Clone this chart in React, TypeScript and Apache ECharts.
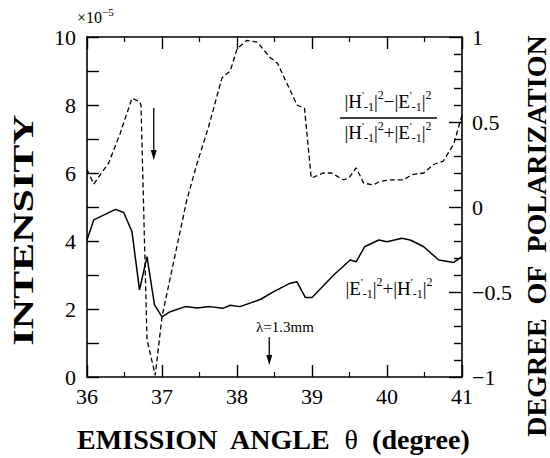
import React, { useEffect, useRef } from 'react';
import * as echarts from 'echarts';

const SERIF = "'Liberation Serif', 'Times New Roman', Times, serif";

// Solid curve: |E'_-1|^2 + |H'_-1|^2 (left axis, x10^-5)
const intensityAngles = [36.0, 36.09, 36.38, 36.49, 36.6, 36.7, 36.8, 36.9, 37.0, 37.11, 37.31, 37.47, 37.64, 37.81, 37.91, 38.04, 38.31, 38.49, 38.71, 38.8, 38.91, 39.0, 39.29, 39.51, 39.59, 39.7, 39.89, 40.0, 40.2, 40.31, 40.49, 40.69, 40.89, 41.0];
const intensityValues = [4.03, 4.62, 4.93, 4.84, 4.27, 2.56, 3.54, 2.12, 1.77, 1.92, 2.07, 2.03, 2.07, 2.02, 2.11, 2.07, 2.28, 2.51, 2.76, 2.8, 2.34, 2.34, 3.0, 3.44, 3.39, 3.83, 4.03, 3.98, 4.08, 4.03, 3.83, 3.44, 3.37, 3.54];

// Dashed curve: degree of polarization (right axis)
const polarAngles = [36.0, 36.09, 36.29, 36.44, 36.6, 36.7, 36.72, 36.8, 36.91, 37.0, 37.33, 37.47, 37.62, 37.8, 37.91, 38.0, 38.13, 38.27, 38.44, 38.54, 38.8, 38.9, 38.99, 39.15, 39.26, 39.42, 39.49, 39.59, 39.69, 39.82, 39.9, 40.04, 40.22, 40.33, 40.49, 40.62, 40.75, 40.89, 41.0];
const polarValues = [0.22, 0.135, 0.26, 0.43, 0.64, 0.62, 0.6, -0.78, -0.99, -0.645, 0.04, 0.26, 0.47, 0.76, 0.8, 0.93, 0.98, 0.97, 0.88, 0.845, 0.6, 0.58, 0.17, 0.2, 0.2, 0.16, 0.17, 0.23, 0.14, 0.13, 0.15, 0.16, 0.16, 0.19, 0.2, 0.25, 0.27, 0.37, 0.54];

// Arrow annotations [angle, fromIntensity, tipIntensity]
const arrowMarks = [
  [36.89, 7.91, 6.38],
  [38.43, 1.17, 0.35],
];

const rightTickLabels: Record<string, string> = { '1': '1', '0.5': '0.5', '0': '0', '-0.5': '\u22120.5', '-1': '\u22121' };

const rich = {
  sup: { fontSize: 12, fontFamily: SERIF, fill: '#000', color: '#000', verticalAlign: 'top', padding: [0, 0, 12, 0] },
  sub: { fontSize: 12, fontFamily: SERIF, fill: '#000', color: '#000', verticalAlign: 'bottom' },
  pr: { fontSize: 11, fontFamily: SERIF, fill: '#000', color: '#000', verticalAlign: 'top', padding: [0, 0, 12, 0] },
};

function txt(x: number, y: number, text: string, fontSize: number, extra: any = {}, elExtra: any = {}) {
  return {
    type: 'text',
    x,
    y,
    silent: true,
    ...elExtra,
    style: {
      text,
      fontFamily: SERIF,
      fontSize,
      fill: '#000',
      align: 'left',
      textAlign: 'left',
      verticalAlign: 'middle',
      textVerticalAlign: 'middle',
      ...extra,
    },
  };
}

export default function App() {
  const ref = useRef<HTMLDivElement>(null);
  useEffect(() => {
    const chart = echarts.init(ref.current!, null, { renderer: 'svg' });
    const axisLabelStyle = { color: '#000', fontFamily: SERIF, fontSize: 22, fontWeight: 'normal' };
    const axisLineStyle = { onZero: false, lineStyle: { color: '#000', width: 1.6 } };
    const xAxisCommon = {
      type: 'value',
      min: 36,
      max: 41,
      interval: 1,
      axisLine: { show: true, ...axisLineStyle },
      axisTick: { show: true, inside: true, length: 12, lineStyle: { color: '#000', width: 1.4 } },
      minorTick: { show: true, splitNumber: 2, length: 5, lineStyle: { color: '#000', width: 1.2 } },
      splitLine: { show: false },
    };
    const option: any = {
      animation: false,
      backgroundColor: '#fff',
      textStyle: { fontFamily: SERIF, color: '#000' },
      grid: { left: 87, right: 88, top: 37, bottom: 81, containLabel: false },
      xAxis: [
        { ...xAxisCommon, position: 'bottom', axisLabel: { ...axisLabelStyle, margin: 8 } },
        { ...xAxisCommon, position: 'top', axisLabel: { show: false } },
      ],
      yAxis: [
        {
          type: 'value',
          min: 0,
          max: 10,
          interval: 2,
          position: 'left',
          axisLine: { show: true, ...axisLineStyle },
          axisTick: { show: true, inside: true, length: 12, lineStyle: { color: '#000', width: 1.4 } },
          minorTick: { show: true, splitNumber: 2, length: 12, lineStyle: { color: '#000', width: 1.4 } },
          splitLine: { show: false },
          axisLabel: { ...axisLabelStyle, margin: 11 },
        },
        {
          type: 'value',
          min: -1,
          max: 1,
          interval: 0.5,
          position: 'right',
          axisLine: { show: true, ...axisLineStyle },
          axisTick: { show: true, inside: true, length: 13, lineStyle: { color: '#000', width: 1.4 } },
          minorTick: { show: true, splitNumber: 5, length: 8, lineStyle: { color: '#000', width: 1.4 } },
          splitLine: { show: false },
          axisLabel: {
            ...axisLabelStyle,
            margin: 10,
            formatter: (v: number) => rightTickLabels[String(v)] ?? String(v),
          },
        },
      ],
      series: [
        {
          name: 'intensity',
          type: 'line',
          xAxisIndex: 0,
          yAxisIndex: 0,
          data: intensityAngles.map((a, i) => [a, intensityValues[i]]),
          showSymbol: false,
          symbol: 'none',
          lineStyle: { color: '#000', width: 1.5 },
          silent: true,
        },
        {
          name: 'polarization',
          type: 'line',
          xAxisIndex: 0,
          yAxisIndex: 1,
          data: polarAngles.map((a, i) => [a, polarValues[i]]),
          showSymbol: false,
          symbol: 'none',
          lineStyle: { color: '#000', width: 1.3, type: [5, 3] },
          silent: true,
        },
        {
          name: 'arrows',
          type: 'custom',
          xAxisIndex: 0,
          yAxisIndex: 0,
          silent: true,
          data: arrowMarks,
          encode: { x: 0, y: [1, 2] },
          renderItem: (params: any, api: any) => {
            const a = api.value(0);
            const p0 = api.coord([a, api.value(1)]);
            const p1 = api.coord([a, api.value(2)]);
            const headLen = 10;
            const headW = 3;
            return {
              type: 'group',
              children: [
                {
                  type: 'line',
                  shape: { x1: p0[0], y1: p0[1], x2: p1[0], y2: p1[1] - headLen + 2 },
                  style: { stroke: '#000', lineWidth: 1.3 },
                },
                {
                  type: 'polygon',
                  shape: {
                    points: [
                      [p1[0] - headW, p1[1] - headLen],
                      [p1[0] + headW, p1[1] - headLen],
                      [p1[0], p1[1]],
                    ],
                  },
                  style: { fill: '#000', stroke: 'none' },
                },
              ],
            };
          },
        },
      ],
      graphic: [
        txt(77, 17, '\u00d710{sup|\u22125}', 16, { rich: { sup: { fontSize: 11, fontFamily: SERIF, fill: '#000', verticalAlign: 'top', padding: [0, 0, 10, 0] } } }),
        txt(388, 101, "|H{pr|'}{sub|-1}|{sup|2}\u2212|E{pr|'}{sub|-1}|{sup|2}", 19, { rich, align: 'center', textAlign: 'center' }),
        {
          type: 'line',
          silent: true,
          shape: { x1: 340, y1: 118, x2: 437, y2: 118 },
          style: { stroke: '#000', lineWidth: 1.5 },
        },
        txt(388, 132, "|H{pr|'}{sub|-1}|{sup|2}+|E{pr|'}{sub|-1}|{sup|2}", 19, { rich, align: 'center', textAlign: 'center' }),
        txt(389, 288, "|E{pr|'}{sub|-1}|{sup|2}+|H{pr|'}{sub|-1}|{sup|2}", 19, { rich, align: 'center', textAlign: 'center' }),
        txt(256, 327, '\u03bb=1.3mm', 15),
        txt(23, 230, 'INTENSITY', 29, { fontWeight: 'bold', align: 'center', textAlign: 'center' }, { rotation: Math.PI / 2, scaleX: 1.45 }),
        txt(536, 236, 'DEGREE  OF  POLARIZATION', 28, { fontWeight: 'bold', align: 'center', textAlign: 'center' }, { rotation: Math.PI / 2 }),
        txt(273, 440, 'EMISSION  ANGLE  {t|\u03b8}  (degree)', 27, {
          fontWeight: 'bold',
          align: 'center',
          textAlign: 'center',
          rich: { t: { fontSize: 27, fontFamily: SERIF, fontWeight: 'normal', fill: '#000' } },
        }, { scaleX: 1.04 }),
      ],
    };
    chart.setOption(option);
    return () => chart.dispose();
  }, []);
  return <div ref={ref} style={{ position: 'fixed', left: 0, top: 0, width: 550, height: 458, background: '#fff' }} />;
}
